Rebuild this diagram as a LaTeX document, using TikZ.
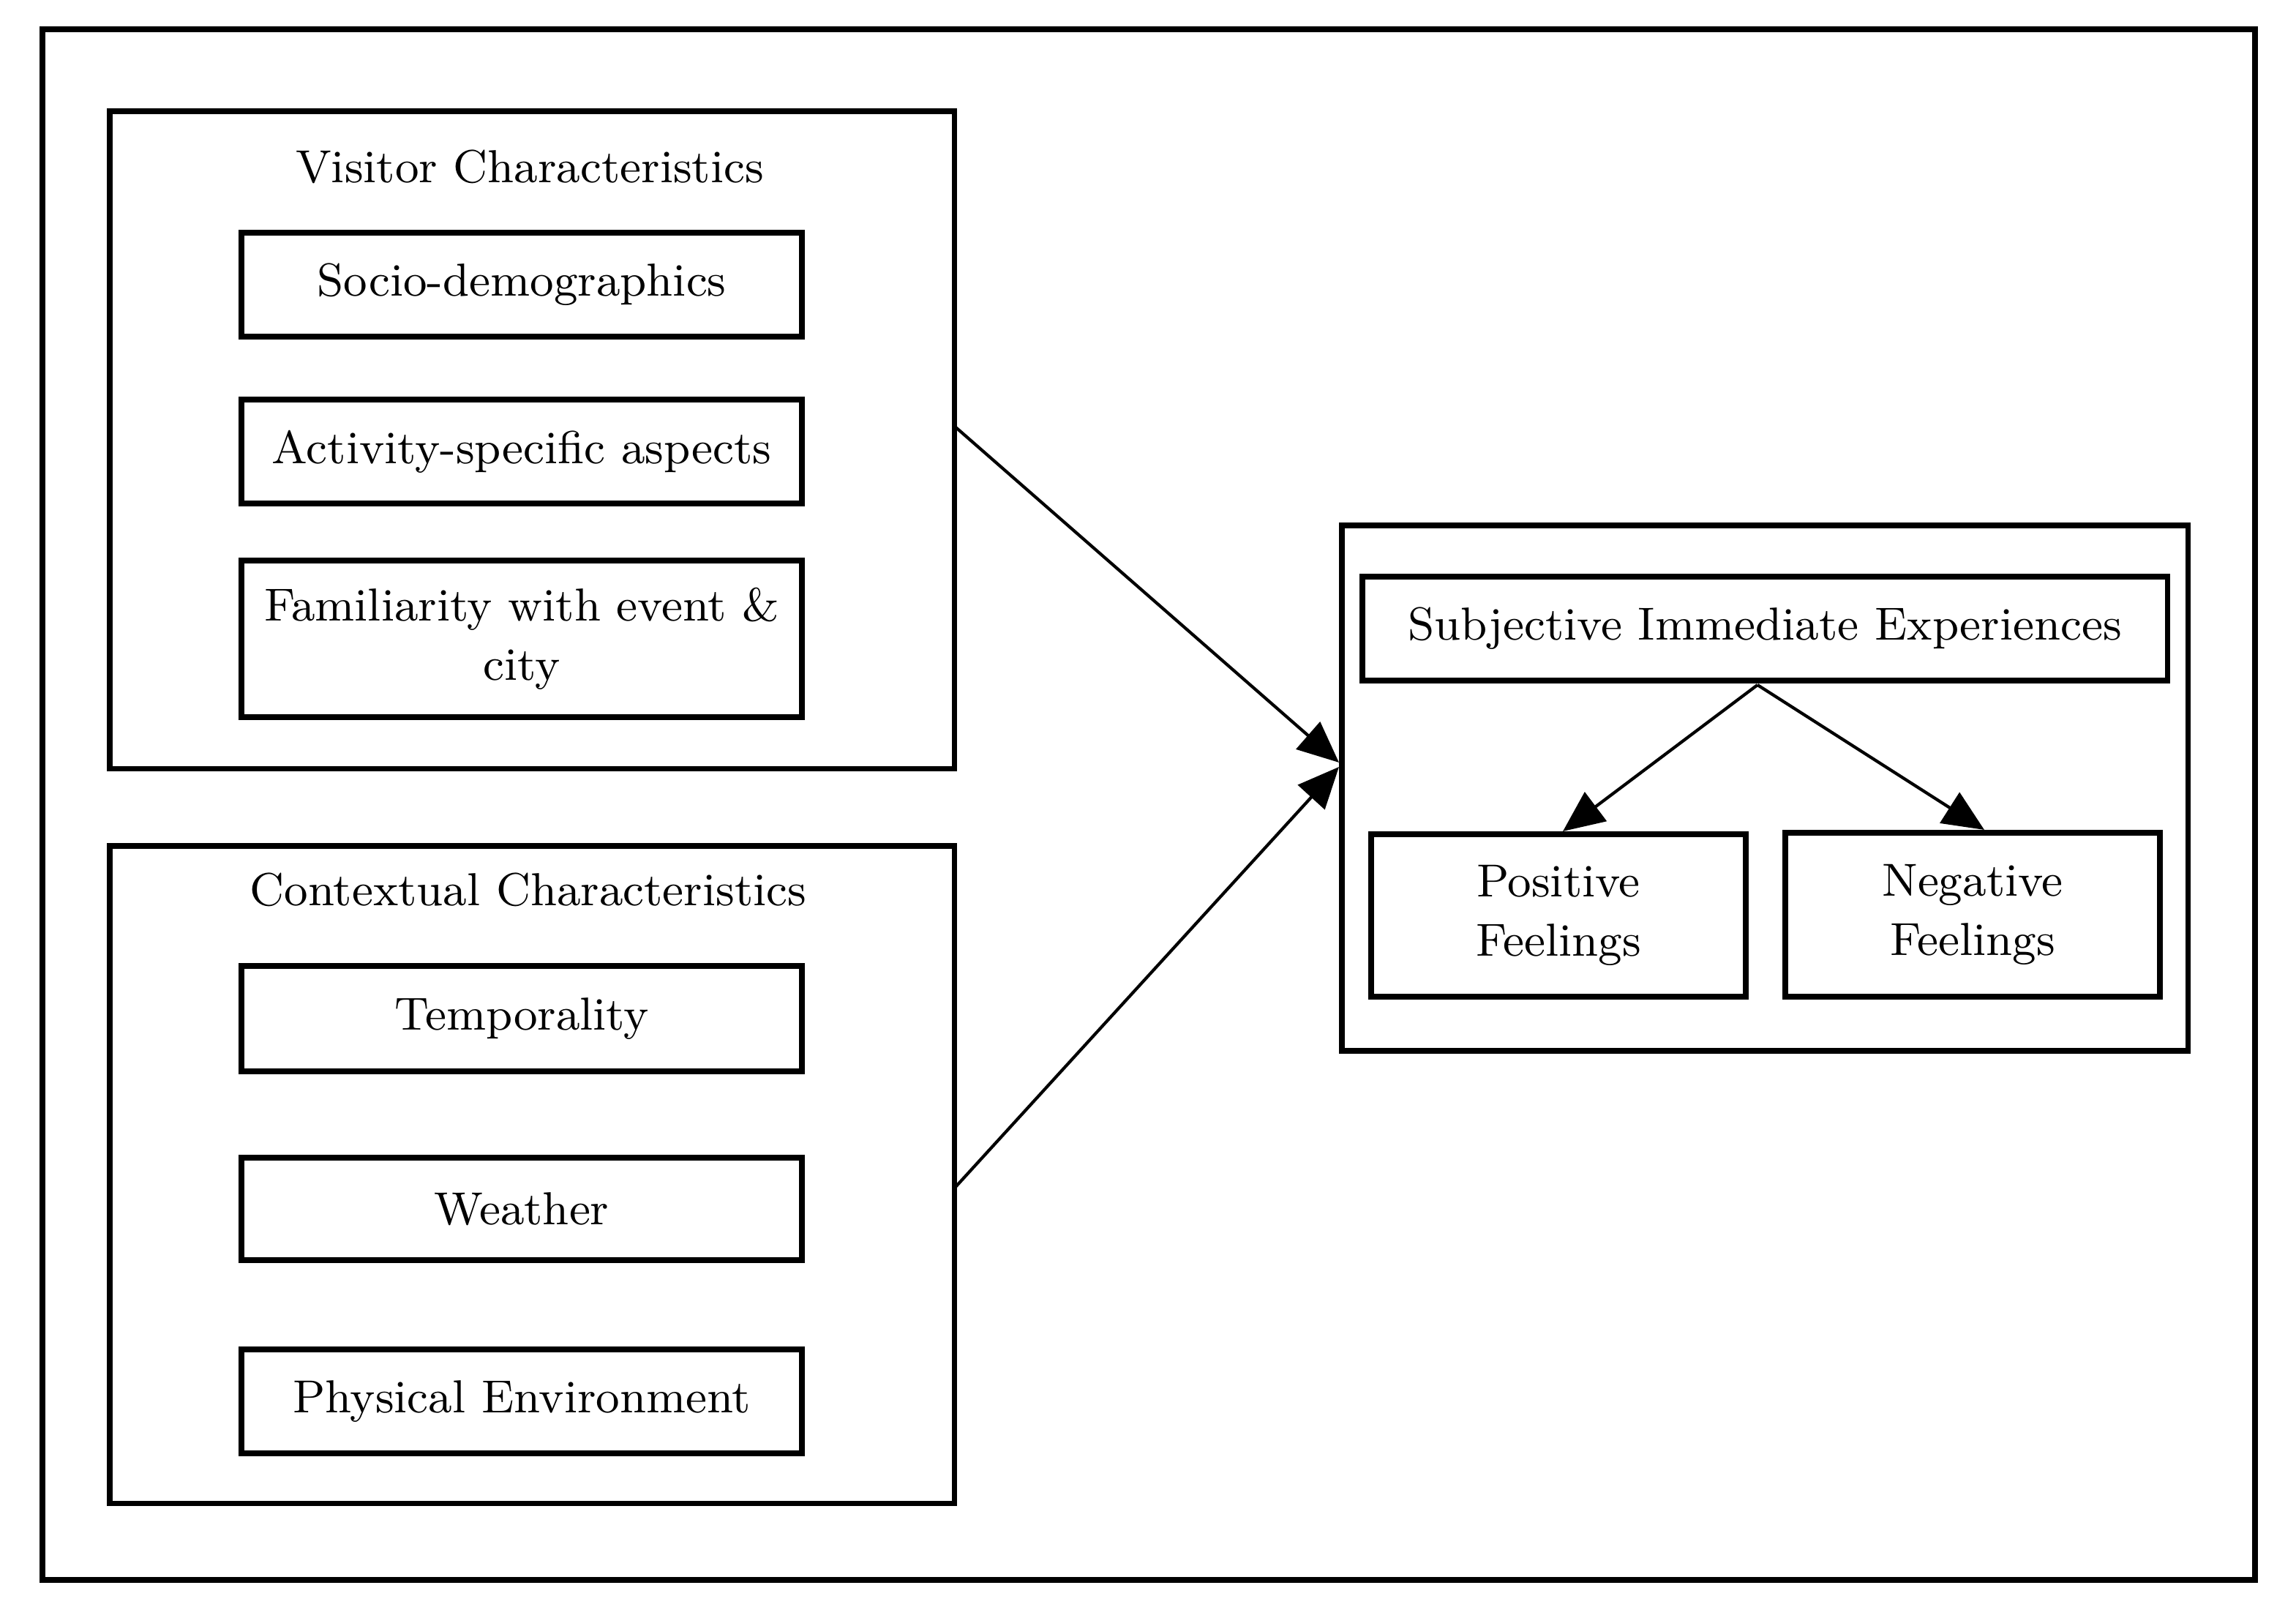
\documentclass[tikz,border=0pt]{standalone}
\usetikzlibrary{arrows.meta}
\begin{document}
\begin{tikzpicture}[x=0.01cm,y=-0.01cm,
  box/.style={draw,line width=1.1pt,inner sep=0pt,anchor=north west,font=\fontsize{9}{11.5}\selectfont,align=center},
  lbl/.style={font=\fontsize{9}{11.5}\selectfont,align=center},
  arr/.style={-{Triangle[length=8pt,width=7pt]},line width=0.6pt}]
\useasboundingbox (0,0) rectangle (1569,1098);
\node[box,minimum width=15.11cm,minimum height=10.59cm] (outer) at (27,18) {};
\node[box,minimum width=5.77cm,minimum height=4.49cm] (vis) at (73,74) {};
\node[lbl] (vist) at (362,114) {Visitor Characteristics};
\node[box,minimum width=3.83cm,minimum height=0.71cm] (s1) at (163,157) {Socio-demographics};
\node[box,minimum width=3.83cm,minimum height=0.71cm] (s2) at (163,271) {Activity-specific aspects};
\node[box,minimum width=3.83cm,minimum height=1.07cm] (s3) at (163,381) {Familiarity with event \&\\city};
\node[box,minimum width=5.77cm,minimum height=4.49cm] (ctx) at (73,576) {};
\node[lbl] (ctxt) at (361,608) {Contextual Characteristics};
\node[box,minimum width=3.83cm,minimum height=0.72cm] (c1) at (163,658) {Temporality};
\node[box,minimum width=3.83cm,minimum height=0.70cm] (c2) at (163,789) {Weather};
\node[box,minimum width=3.83cm,minimum height=0.71cm] (c3) at (163,920) {Physical Environment};
\node[box,minimum width=5.78cm,minimum height=3.59cm] (right) at (915,357) {};
\node[box,minimum width=5.50cm,minimum height=0.71cm] (sie) at (929,392) {Subjective Immediate Experiences};
\node[box,minimum width=2.56cm,minimum height=1.11cm] (pos) at (935,568) {Positive\\Feelings};
\node[box,minimum width=2.56cm,minimum height=1.12cm] (neg) at (1218,567) {Negative\\Feelings};
\coordinate (v1) at (652,291);
\coordinate (v2) at (653,811);
\coordinate (t1) at (915,521);
\coordinate (t2) at (915,524);
\coordinate (sp) at (1201,468);
\coordinate (pt) at (1068,568);
\coordinate (nt) at (1356,567);
\draw[arr] (v1) -- (t1);
\draw[arr] (v2) -- (t2);
\draw[arr] (sp) -- (pt);
\draw[arr] (sp) -- (nt);
\end{tikzpicture}
\end{document}
